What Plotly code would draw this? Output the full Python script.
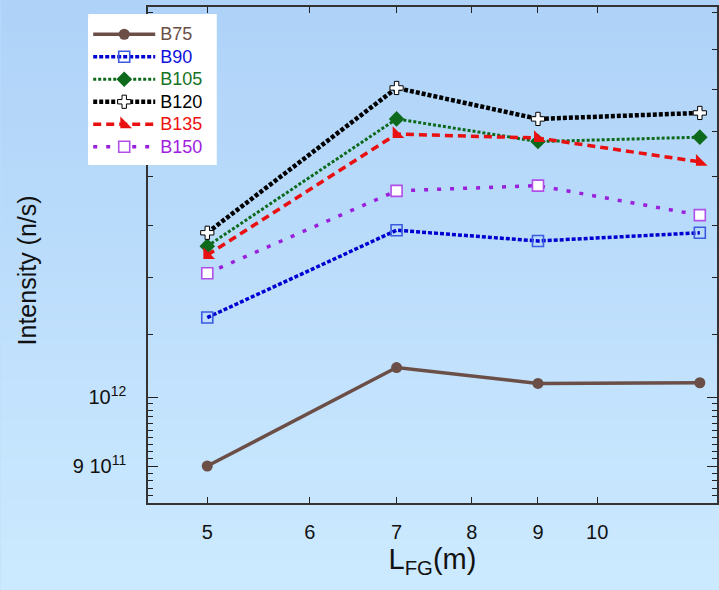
import numpy as np
import plotly.graph_objects as go

# ---- data ----
L_FG = [5, 7, 9, 12]
series_names = ["B75", "B90", "B105", "B120", "B135", "B150"]
B75 = [0.900e12, 1.046e12, 1.021e12, 1.022e12]
B90 = [1.129e12, 1.290e12, 1.269e12, 1.285e12]
B105 = [1.259e12, 1.529e12, 1.477e12, 1.487e12]
B120 = [1.285e12, 1.603e12, 1.529e12, 1.543e12]
B135 = [1.242e12, 1.494e12, 1.485e12, 1.432e12]
B150 = [1.208e12, 1.370e12, 1.381e12, 1.320e12]

x_tick_vals = [5, 6, 7, 8, 9, 10]
x_tick_text = ["5", "6", "7", "8", "9", "10"]
y_tick_vals = [0.9e12, 1.0e12]
y_tick_text = ["9 10<sup>11</sup>", "10<sup>12</sup>"]
y_minor_vals = [v * 1e10 for v in range(86, 100)] + [v * 1e11 for v in range(11, 19)]

# ---- styles ----
styles = {
    "B75": dict(color="#6b4e46", text="#6b4e46", dash="solid", width=3.5,
                marker=dict(symbol="circle", size=11, color="#6b4e46")),
    "B90": dict(color="#0000d0", text="#1010dd", dash="4px,2px", width=3.5,
                marker=dict(symbol="square", size=11, color="rgba(0,0,0,0)",
                            line=dict(color="#3a5ae0", width=1.6))),
    "B105": dict(color="#0d6a1c", text="#16731f", dash="3px,2px", width=3,
                 marker=dict(symbol="diamond", size=12, color="#0d6a1c")),
    "B120": dict(color="#000000", text="#000000", dash="4px,2px", width=4.5,
                 marker=dict(symbol="cross", size=11, color="white",
                             line=dict(color="black", width=1))),
    "B135": dict(color="#e81010", text="#ee1111", dash="8px,5px", width=3.5,
                 marker=dict(symbol="triangle-sw", size=13, color="#e81010")),
    "B150": dict(color="#9a1fdc", text="#a020e0", dash="4px,9px", width=3.5,
                 marker=dict(symbol="square", size=11, color="white",
                             line=dict(color="#b050e8", width=1.6))),
}
data = {"B75": B75, "B90": B90, "B105": B105, "B120": B120, "B135": B135, "B150": B150}

fig = go.Figure()
for name in series_names:
    s = styles[name]
    fig.add_trace(go.Scatter(
        x=L_FG, y=data[name], mode="lines+markers",
        name=f"<span style='color:{s['text']};font-size:18px'>{name}</span>",
        line=dict(color=s["color"], width=s["width"], dash=s["dash"]),
        marker=s["marker"],
    ))

# ---- gradient background via stripes ----
W, H = 719, 590
ml, mr, mt, mb = 148, 0, 7, 87
pw, ph = W - ml - mr, H - mt - mb


def px_x(p):
    return (p - ml) / pw


def px_y(p):
    return (H - mb - p) / ph


top_rgb = np.array([174, 210, 248])
bot_rgb = np.array([204, 234, 255])
n = 59
shapes = []
for i in range(n):
    p0 = i * H / n
    p1 = (i + 1) * H / n
    t = (i + 0.5) / n
    c = (top_rgb * (1 - t) + bot_rgb * t).round().astype(int)
    shapes.append(dict(
        type="rect", xref="paper", yref="paper",
        x0=px_x(0), x1=px_x(W) + 0.01,
        y0=px_y(p1) - 0.001, y1=px_y(p0) + 0.001,
        fillcolor=f"rgb({c[0]},{c[1]},{c[2]})", line=dict(width=0), layer="below",
    ))
# white legend panel (padding around the legend)
shapes.append(dict(type="rect", xref="paper", yref="paper",
                   x0=px_x(88), x1=px_x(217), y0=px_y(165), y1=px_y(14),
                   fillcolor="white", line=dict(width=0), layer="above"))

px_per_dec_x = 1300.0
x0 = np.log10(4.5)
x1 = x0 + pw / px_per_dec_x
px_per_dec_y = 1508.0
y0 = 12 - 106 / px_per_dec_y
y1 = y0 + ph / px_per_dec_y

font = "Liberation Sans, Arial, sans-serif"
fig.update_layout(
    width=W, height=H,
    margin=dict(l=ml, r=mr, t=mt, b=mb),
    paper_bgcolor="rgb(189,222,252)",
    plot_bgcolor="rgba(0,0,0,0)",
    shapes=shapes,
    font=dict(family=font, size=20, color="#111"),
    showlegend=True,
    legend=dict(x=px_x(88), y=px_y(18), xanchor="left", yanchor="top",
                bgcolor="white", borderwidth=0, font=dict(size=15, family=font),
                tracegroupgap=0, itemwidth=62),
    annotations=[dict(text="Intensity (n/s)", textangle=-90, xref="paper", yref="paper",
                      x=px_x(27), y=px_y(270), xanchor="center", yanchor="middle",
                      showarrow=False, font=dict(size=25, family=font, color="#111"))],
    xaxis=dict(type="log", range=[x0, x1], tickmode="array", tickvals=x_tick_vals,
               ticktext=x_tick_text, ticks="inside", ticklen=6, tickcolor="#222",
               showline=True, linecolor="#333", linewidth=1.5, mirror="ticks",
               showgrid=False, zeroline=False, ticklabelstandoff=10,
               tickfont=dict(size=20, family=font, color="#111"),
               title=dict(text="L<sub>FG</sub>(m)", font=dict(size=29, family=font, color="#111"),
                          standoff=4)),
    yaxis=dict(type="log", range=[y0, y1], tickmode="array", tickvals=y_tick_vals,
               ticktext=y_tick_text, ticks="inside", ticklen=10, tickcolor="#222",
               minor=dict(tickmode="array", tickvals=y_minor_vals, ticks="inside", ticklen=5,
                          tickcolor="#222", showgrid=False),
               showline=True, linecolor="#333", linewidth=1.5, mirror="ticks",
               showgrid=False, zeroline=False, ticklabelstandoff=16,
               tickfont=dict(size=20, family=font, color="#111")),
)

fig.write_html("out.html")
